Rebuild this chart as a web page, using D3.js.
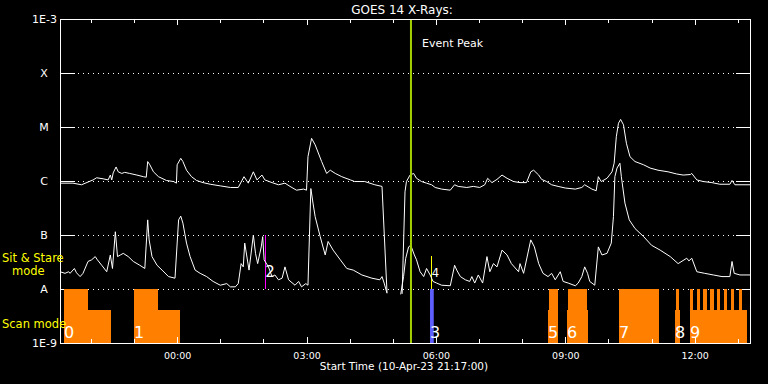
<!DOCTYPE html>
<html>
<head>
<meta charset="utf-8">
<script src="https://cdn.jsdelivr.net/npm/d3@7"></script>
<style>
body { margin: 0; background: #000; }
svg text { font-family: "DejaVu Sans", sans-serif; }
</style>
</head>
<body>
<svg width="768" height="384"></svg>
<script>

var startTime = Date.UTC(2023, 3, 10, 21, 17),
    spanMinutes = 960;

// decades of the flux axis (log10 W/m^2) and their labels
var levels = [-3, -4, -5, -6, -7, -8, -9],
    levelLabels = ["1E-3", "X", "M", "C", "B", "A", "1E-9"];

// GOES 1-8 A channel: [minutes after start, log10 flux], null = data gap
var longFlux = [[0,-6.04],[18,-6.04],[30,-6.07],[46,-5.98],[51,-5.94],[60,-5.96],[67,-5.98],[70,-5.89],[72,-5.98],[74,-5.85],[78,-5.74],[81,-5.83],[86,-5.86],[90,-5.84],[97,-5.86],[107,-5.89],[116,-5.92],[120,-5.93],[122,-5.64],[125,-5.70],[130,-5.83],[137,-5.92],[148,-5.99],[158,-6.01],[162,-6.04],[163,-5.70],[168,-5.58],[171,-5.64],[176,-5.80],[183,-5.92],[190,-5.99],[199,-6.03],[209,-6.06],[223,-6.09],[237,-6.12],[248,-6.12],[256,-5.92],[262,-6.04],[269,-5.83],[274,-5.98],[281,-5.89],[285,-5.98],[295,-6.03],[304,-6.07],[313,-6.04],[320,-6.10],[329,-6.17],[339,-6.15],[343,-6.17],[345,-5.55],[350,-5.21],[355,-5.33],[364,-5.64],[371,-5.86],[376,-5.80],[383,-5.86],[392,-5.92],[404,-5.98],[410,-6.01],[424,-6.01],[438,-6.07],[448,-6.10],[455,-8.07],null,[476,-8.09],[480,-6.20],[482,-6.01],[487,-5.89],[492,-5.86],[496,-5.95],[503,-6.01],[510,-6.04],[517,-6.07],[522,-6.12],[531,-6.15],[543,-6.17],[549,-6.07],[554,-6.10],[566,-6.12],[575,-6.10],[584,-6.12],[591,-6.07],[595,-5.95],[601,-6.03],[608,-5.97],[615,-5.89],[622,-5.95],[631,-6.01],[640,-6.03],[649,-6.03],[655,-5.83],[659,-5.80],[666,-5.89],[670,-5.97],[677,-6.01],[684,-6.07],[693,-6.10],[703,-6.13],[717,-6.15],[726,-6.12],[730,-6.07],[740,-6.15],[746,-6.18],[749,-5.92],[753,-6.01],[761,-5.95],[768,-5.83],[771,-5.67],[774,-5.18],[777,-4.93],[780,-4.86],[784,-4.96],[788,-5.30],[793,-5.55],[800,-5.64],[812,-5.70],[821,-5.76],[832,-5.80],[846,-5.83],[858,-5.87],[867,-5.89],[877,-5.88],[879,-5.86],[886,-5.98],[895,-6.01],[907,-6.03],[918,-6.06],[932,-6.06],[935,-5.99],[939,-6.07],[960,-6.07]];

// GOES 0.5-4 A channel
var shortFlux = [[0,-7.68],[7,-7.71],[12,-7.68],[14,-7.71],[20,-7.62],[23,-7.70],[28,-7.77],[32,-7.71],[39,-7.49],[44,-7.46],[49,-7.40],[52,-7.46],[58,-7.56],[65,-7.68],[70,-7.37],[73,-7.62],[77,-6.94],[80,-7.40],[84,-7.37],[88,-7.34],[95,-7.40],[102,-7.49],[111,-7.56],[118,-7.62],[122,-6.72],[124,-7.09],[128,-7.40],[135,-7.56],[142,-7.65],[151,-7.77],[160,-7.80],[165,-6.72],[168,-6.65],[171,-6.78],[176,-7.15],[181,-7.40],[188,-7.65],[195,-7.71],[204,-7.77],[213,-7.86],[223,-7.93],[232,-7.90],[237,-7.96],[244,-7.96],[248,-7.90],[252,-7.53],[255,-7.59],[257,-7.15],[263,-7.65],[269,-7.00],[272,-7.34],[275,-7.53],[280,-7.22],[282,-7.03],[284,-7.46],[290,-7.59],[295,-7.77],[299,-7.74],[304,-7.83],[309,-7.80],[313,-7.59],[318,-7.83],[327,-7.93],[332,-7.86],[336,-7.96],[342,-7.90],[345,-7.93],[349,-6.14],[352,-6.41],[355,-6.66],[362,-7.03],[369,-7.37],[373,-7.12],[380,-7.28],[390,-7.46],[399,-7.62],[408,-7.65],[420,-7.74],[434,-7.80],[445,-7.83],[448,-7.77],[451,-7.89],[455,-8.08],null,[474,-8.10],[478,-7.77],[481,-7.43],[485,-7.22],[488,-7.19],[493,-7.37],[496,-7.46],[501,-7.68],[506,-7.77],[510,-7.62],[515,-7.74],[519,-7.86],[524,-7.89],[531,-7.93],[543,-7.94],[549,-7.56],[552,-7.65],[557,-7.77],[564,-7.83],[570,-7.86],[573,-7.77],[577,-7.89],[582,-7.74],[588,-7.89],[594,-7.40],[598,-7.68],[603,-7.53],[608,-7.59],[615,-7.28],[622,-7.37],[628,-7.53],[638,-7.68],[640,-7.53],[645,-7.71],[655,-7.09],[660,-7.22],[666,-7.53],[672,-7.71],[679,-7.77],[684,-7.71],[689,-7.83],[696,-7.68],[700,-7.86],[707,-7.89],[717,-7.94],[721,-7.89],[726,-7.77],[730,-7.59],[734,-7.71],[737,-7.86],[744,-7.93],[749,-7.22],[754,-7.37],[761,-7.34],[767,-7.15],[770,-6.66],[772,-5.92],[775,-5.76],[779,-5.67],[781,-5.92],[786,-6.41],[792,-6.72],[800,-6.88],[812,-7.03],[823,-7.19],[835,-7.28],[849,-7.40],[860,-7.53],[872,-7.43],[875,-7.48],[879,-7.43],[886,-7.68],[897,-7.71],[909,-7.74],[921,-7.77],[932,-7.77],[935,-7.49],[938,-7.71],[946,-7.74],[960,-7.74]];

// observing blocks [from, to] in minutes after start
var stareBlocks = [[5.6,38.5],[103,135.9],[680.3,692.9],[706.8,732.8],[777.7,833.4],[857.1,861.3],[876.5,881.1],[885.8,890.4],[895,899.6],[904.3,909.5],[914.5,918.7],[924.2,928.4],[933,937.7],[944.3,949.3]];
var scanBlocks = [[38.5,70.5],[135.9,166.5],[678.9,692.9],[705.4,734.2],[855.7,862.6],[876.5,956.2]];

// numbered events
var eventIds = ["0", "1", "2", "3", "4", "5", "6", "7", "8", "9"],
    eventTimes = [5.6, 103, 285.6, 514.8, 517.2, 678.9, 705.4, 777.7, 855.7, 876.5],
    eventRows = ["scan", "scan", "flare", "scan", "flare", "scan", "scan", "scan", "scan", "scan"];

var peakTime = 488.3;          // Event Peak
var flareMarker = [285.6, -7, -8],      // magenta
    flareMarker2 = [517.2, -7.39, -8],  // yellow
    scanMarker = [514.8, 520];          // blue

var svg = d3.select("svg");
var plotLeft = 60, plotRight = 750, plotTop = 19, plotBottom = 343;

var x = d3.scaleUtc()
    .domain([new Date(startTime), new Date(startTime + spanMinutes * 60000)])
    .range([plotLeft, plotRight]);
var y = d3.scaleLog().domain([1e-9, 1e-3]).range([plotBottom, plotTop]);

function tx(m) { return x(new Date(startTime + m * 60000)); }
function ly(v) { return y(Math.pow(10, v)); }

svg.append("rect").attr("width", 768).attr("height", 384).attr("fill", "#000");

// dotted decade lines with solid ticks at both ends
var grid = svg.append("g").attr("stroke", "#fff").attr("shape-rendering", "crispEdges");
levels.slice(1, -1).forEach(function(v) {
  var yy = ly(v) + 0.5;
  grid.append("line").attr("x1", plotLeft + 18).attr("x2", plotRight - 15).attr("y1", yy).attr("y2", yy)
      .attr("stroke-dasharray", "1,4");
  grid.append("line").attr("x1", plotLeft).attr("x2", plotLeft + 15).attr("y1", yy).attr("y2", yy);
  grid.append("line").attr("x1", plotRight - 14).attr("x2", plotRight).attr("y1", yy).attr("y2", yy);
});

// observing mode blocks
var bandTop = ly(-8), bandBot = ly(-9), lowTop = bandTop + 0.39 * (bandBot - bandTop);
svg.append("g").attr("fill", "#ff8000").attr("shape-rendering", "crispEdges")
  .selectAll("rect").data(scanBlocks.map(function(d) { return [d, lowTop]; })
    .concat(stareBlocks.map(function(d) { return [d, bandTop]; })))
  .enter().append("rect")
    .attr("x", function(d) { return tx(d[0][0]); })
    .attr("width", function(d) { return tx(d[0][1]) - tx(d[0][0]); })
    .attr("y", function(d) { return d[1]; })
    .attr("height", function(d) { return bandBot - d[1]; });

svg.append("rect").attr("fill", "#5f5fff")
    .attr("x", tx(scanMarker[0])).attr("width", tx(scanMarker[1]) - tx(scanMarker[0]))
    .attr("y", bandTop).attr("height", bandBot - bandTop);
svg.append("line").attr("stroke", "#ff00ff").attr("shape-rendering", "crispEdges")
    .attr("x1", tx(flareMarker[0])).attr("x2", tx(flareMarker[0]))
    .attr("y1", ly(flareMarker[1])).attr("y2", ly(flareMarker[2]));
svg.append("line").attr("stroke", "#ffff00").attr("shape-rendering", "crispEdges")
    .attr("x1", tx(flareMarker2[0])).attr("x2", tx(flareMarker2[0]))
    .attr("y1", ly(flareMarker2[1])).attr("y2", ly(flareMarker2[2]));

// light curves
svg.append("clipPath").attr("id", "clip").append("rect")
    .attr("x", plotLeft).attr("y", plotTop).attr("width", plotRight - plotLeft).attr("height", plotBottom - plotTop);
var line = d3.line()
    .defined(function(d) { return d !== null; })
    .x(function(d) { return tx(d[0]); })
    .y(function(d) { return ly(d[1]); });
svg.append("g").attr("clip-path", "url(#clip)")
  .selectAll("path").data([longFlux, shortFlux])
  .enter().append("path")
    .attr("fill", "none").attr("stroke", "#fff").attr("stroke-width", 1)
    .attr("d", line);

// event peak
svg.append("line").attr("stroke", "#a4d000").attr("stroke-width", 2)
    .attr("x1", tx(peakTime)).attr("x2", tx(peakTime)).attr("y1", plotTop).attr("y2", plotBottom);
svg.append("text").attr("x", tx(peakTime) + 11).attr("y", 47)
    .attr("fill", "#fff").attr("font-size", 11).text("Event Peak");

// frame and time axes
svg.append("rect").attr("x", plotLeft + 0.5).attr("y", plotTop + 0.5)
    .attr("width", plotRight - plotLeft).attr("height", plotBottom - plotTop)
    .attr("fill", "none").attr("stroke", "#fff").attr("shape-rendering", "crispEdges");

function clean(g) {
  g.attr("color", "#fff").attr("font-family", null).attr("shape-rendering", "crispEdges");
  g.select(".domain").remove();
}
svg.append("g").attr("transform", "translate(0," + plotTop + ")")
    .call(d3.axisBottom(x).ticks(d3.utcHour.every(1)).tickSize(4).tickFormat(""))
    .call(clean);
svg.append("g").attr("transform", "translate(0," + plotTop + ")")
    .call(d3.axisBottom(x).ticks(d3.utcHour.every(3)).tickSize(6).tickFormat(""))
    .call(clean);
svg.append("g").attr("transform", "translate(0," + plotBottom + ")")
    .call(d3.axisBottom(x).ticks(d3.utcHour.every(1)).tickSize(-4).tickFormat(""))
    .call(clean);
svg.append("g").attr("transform", "translate(0," + plotBottom + ")")
    .call(d3.axisBottom(x).ticks(d3.utcHour.every(3)).tickSize(-6).tickPadding(9)
      .tickFormat(d3.utcFormat("%H:%M")))
    .call(clean)
    .attr("font-size", 9.5);

// event numbers
svg.append("g").attr("fill", "#fff")
  .selectAll("text").data(eventIds)
  .enter().append("text")
    .attr("x", function(d, i) { return tx(eventTimes[i]); })
    .attr("y", function(d, i) { return eventRows[i] === "scan" ? 338 : 277; })
    .attr("font-size", function(d, i) { return eventRows[i] === "scan" ? 16 : (d === "4" ? 11.5 : 15); })
    .text(function(d) { return d; });

// flux labels
svg.append("g").attr("fill", "#fff").attr("font-size", 11)
  .selectAll("text").data(levels)
  .enter().append("text")
    .attr("x", function(d, i) { return i === 0 || i === levels.length - 1 ? 57 : 44; })
    .attr("y", function(d) { return ly(d) + 4; })
    .attr("text-anchor", function(d, i) { return i === 0 || i === levels.length - 1 ? "end" : "middle"; })
    .text(function(d, i) { return levelLabels[i]; });

svg.append("text").attr("x", 402).attr("y", 14).attr("text-anchor", "middle")
    .attr("fill", "#fff").attr("font-size", 12).text("GOES 14 X-Rays:");
svg.append("text").attr("x", 404).attr("y", 370).attr("text-anchor", "middle")
    .attr("fill", "#fff").attr("font-size", 10.5).text("Start Time (10-Apr-23 21:17:00)");

var modes = svg.append("g").attr("fill", "#ffff00").attr("font-size", 11.5);
modes.append("text").attr("x", 2).attr("y", 262).text("Sit & Stare");
modes.append("text").attr("x", 12).attr("y", 275).text("mode");
modes.append("text").attr("x", 2).attr("y", 328).text("Scan mode");

</script>
</body>
</html>
